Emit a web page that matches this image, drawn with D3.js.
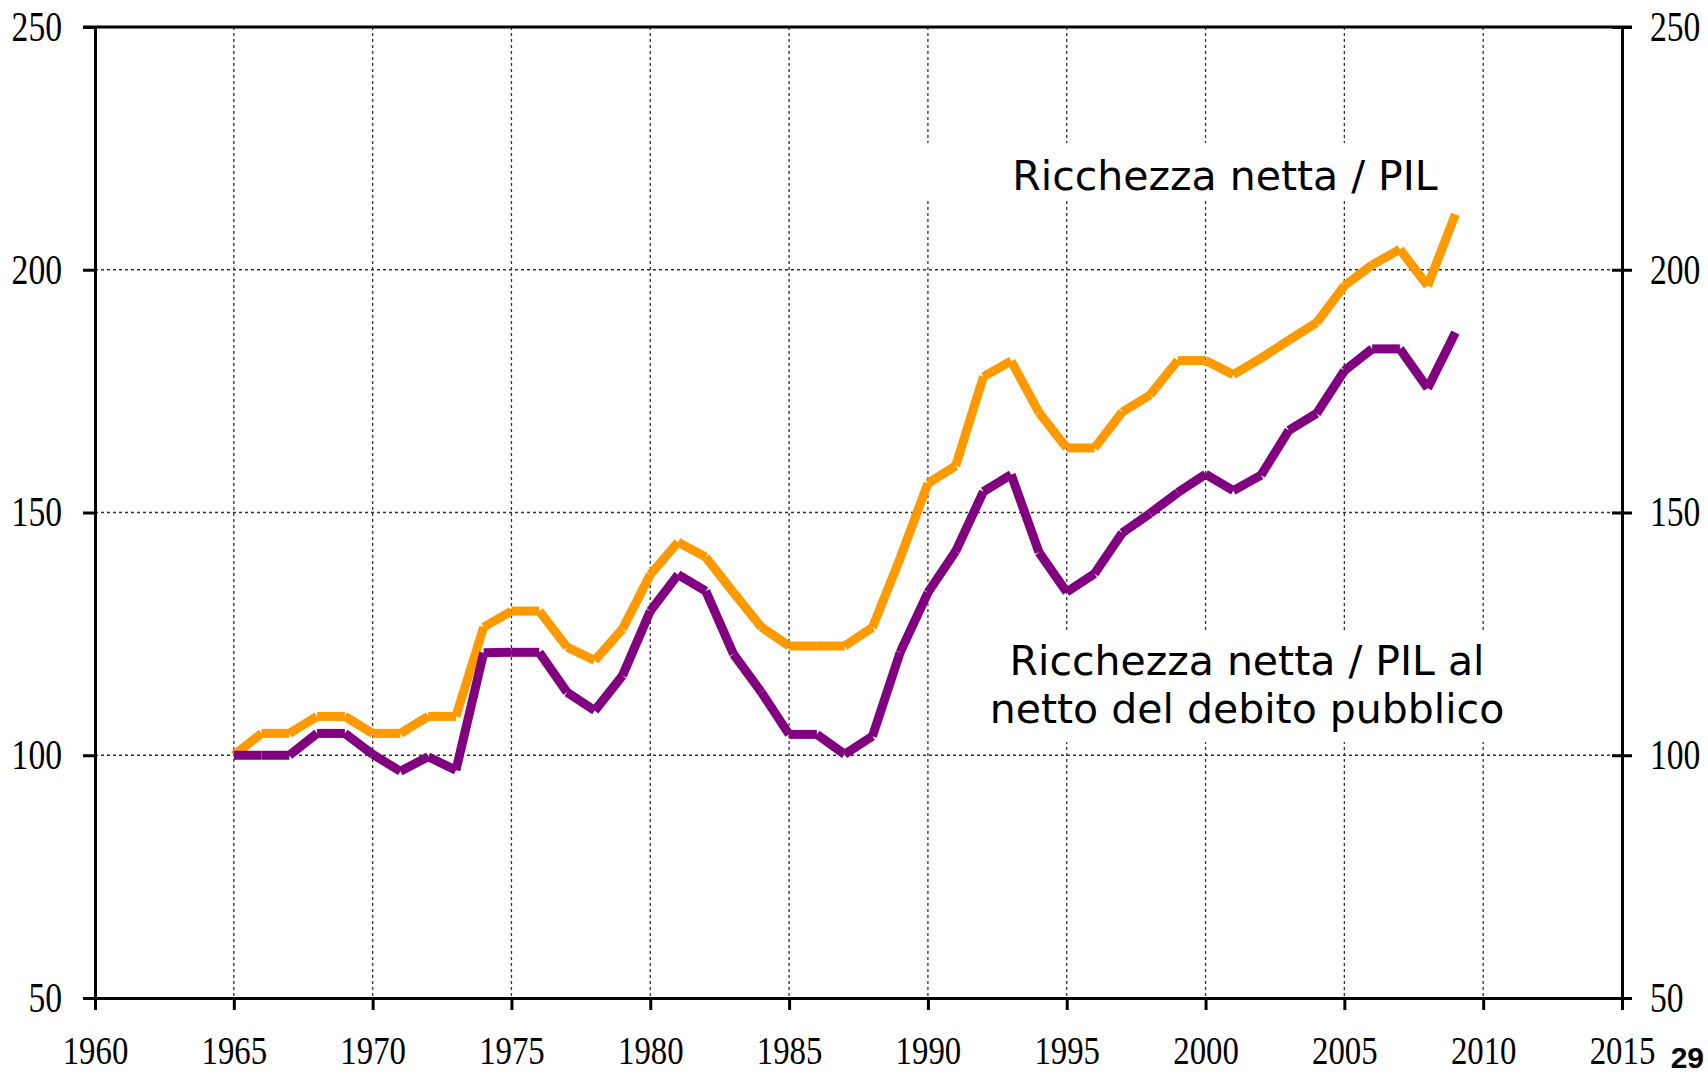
<!DOCTYPE html>
<html lang="it">
<head>
<meta charset="utf-8">
<title>Ricchezza netta / PIL</title>
<script src="https://cdn.jsdelivr.net/npm/d3@7/dist/d3.min.js"></script>
<style>
  body { margin: 0; background: #fff; }
  .tick text { font-family: "Liberation Serif", "Times New Roman", serif; fill: #000; }
  .label { font-family: "DejaVu Sans", Verdana, sans-serif; fill: #000; }
</style>
</head>
<body>
<script>
  // anni della serie
  var years = [1965, 1966, 1967, 1968, 1969, 1970, 1971, 1972, 1973, 1974,
               1975, 1976, 1977, 1978, 1979, 1980, 1981, 1982, 1983, 1984,
               1985, 1986, 1987, 1988, 1989, 1990, 1991, 1992, 1993, 1994,
               1995, 1996, 1997, 1998, 1999, 2000, 2001, 2002, 2003, 2004,
               2005, 2006, 2007, 2008, 2009];
  // Ricchezza netta / PIL (1965 = 100)
  var ricchezza = [100, 104.5, 104.5, 108, 108, 104.5, 104.5, 108, 108, 126.4,
                   129.7, 129.7, 122.3, 119.5, 126, 137.2, 143.9, 140.8, 133.5, 126.4,
                   122.5, 122.5, 122.5, 126.3, 140.6, 156, 159.6, 178, 181.2, 170.6,
                   163.3, 163.3, 170.7, 174.2, 181.3, 181.3, 178.4, 181.8, 185.5, 189.1,
                   196.7, 201, 204.2, 196.7, 211.4];
  // Ricchezza netta / PIL al netto del debito pubblico
  var ricchezzaNetta = [100, 100, 100, 104.5, 104.5, 100.2, 96.7, 99.7, 96.9, 121.1,
                        121.2, 121.2, 113, 109.2, 116.4, 129.7, 137.2, 133.8, 120.8, 113,
                        104.3, 104.3, 100.2, 103.9, 121.2, 133.5, 142, 154.3, 157.8, 141.8,
                        133.6, 137.4, 145.8, 149.8, 154.1, 157.9, 154.5, 157.7, 166.9, 170.4,
                        179.2, 183.7, 183.7, 175.6, 187.1];
  var xTicks = [1960, 1965, 1970, 1975, 1980, 1985, 1990, 1995, 2000, 2005, 2010, 2015];
  var yTicks = [50, 100, 150, 200, 250];

  var w = 1708;
  var h = 1074;
  var margin = { top: 27, left: 95, right: 86, bottom: 76 };
  var squeeze = 0.8; // i numeri degli assi sono stretti in orizzontale

  var x = d3.scaleLinear()
    .domain([1960, 2015])
    .range([margin.left, w - margin.right]);
  var y = d3.scaleLinear()
    .domain([50, 250])
    .range([h - margin.bottom, margin.top]);

  var svg = d3.select("body").append("svg")
    .attr("width", w)
    .attr("height", h);

  // griglia tratteggiata
  var grid = svg.append("g").attr("stroke", "#333").attr("stroke-width", 1.3)
    .attr("stroke-dasharray", "3,3");
  grid.selectAll(".vgrid")
    .data(xTicks.slice(1, -1))
    .enter().append("line")
    .attr("x1", function (d) { return x(d); })
    .attr("x2", function (d) { return x(d); })
    .attr("y1", y(250))
    .attr("y2", y(50));
  grid.selectAll(".hgrid")
    .data(yTicks.slice(1, -1))
    .enter().append("line")
    .attr("x1", x(1960))
    .attr("x2", x(2015))
    .attr("y1", function (d) { return y(d); })
    .attr("y2", function (d) { return y(d); });

  // riquadri bianchi dietro le etichette
  svg.append("rect").attr("x", 905).attr("y", 143).attr("width", 555).attr("height", 57).attr("fill", "#fff");
  svg.append("rect").attr("x", 975).attr("y", 630).attr("width", 540).attr("height", 112).attr("fill", "#fff");

  var line = d3.line()
    .x(function (d) { return x(d[0]); })
    .y(function (d) { return y(d[1]); });

  // ogni tratto disegnato separatamente, come nell'originale
  function plot(values, color) {
    var segs = [];
    for (var i = 0; i < years.length - 1; i++) {
      segs.push([[years[i], values[i]], [years[i + 1], values[i + 1]]]);
    }
    svg.append("g").selectAll("path")
      .data(segs)
      .enter().append("path")
      .attr("d", line)
      .attr("fill", "none")
      .attr("stroke", color)
      .attr("stroke-width", 9)
      .attr("stroke-linecap", "butt");
  }
  plot(ricchezza, "#ff9900");
  plot(ricchezzaNetta, "#800080");

  // assi
  function styleAxis(g, size) {
    g.select(".domain").attr("stroke", "#000").attr("stroke-width", 3);
    g.selectAll(".tick line").attr("stroke", "#000").attr("stroke-width", 3);
    g.selectAll(".tick text")
      .attr("font-size", size)
      .attr("x", function () { return (+d3.select(this).attr("x") || 0) / squeeze; })
      .attr("transform", "scale(" + squeeze + ",1)");
  }

  svg.append("g")
    .attr("transform", "translate(" + x(1960) + ",0)")
    .call(d3.axisLeft(y).tickValues(yTicks).tickSize(12).tickSizeOuter(0).tickPadding(21))
    .call(styleAxis, 42);

  var right = svg.append("g")
    .attr("transform", "translate(" + x(2015) + ",0)")
    .call(d3.axisRight(y).tickValues(yTicks).tickSize(10).tickSizeOuter(0).tickPadding(18))
    .call(styleAxis, 42);
  right.selectAll(".tick line").attr("x1", -10);

  svg.append("g")
    .attr("transform", "translate(0," + y(50) + ")")
    .call(d3.axisBottom(x).tickValues(xTicks).tickSize(12).tickSizeOuter(0).tickPadding(25).tickFormat(d3.format("d")))
    .call(styleAxis, 41);

  svg.append("line")
    .attr("x1", x(1960) - 12).attr("x2", x(2015) + 10)
    .attr("y1", y(250)).attr("y2", y(250))
    .attr("stroke", "#000").attr("stroke-width", 3);

  // etichette delle serie
  svg.append("text").attr("class", "label")
    .attr("x", 1225).attr("y", 190)
    .attr("text-anchor", "middle").attr("font-size", 41)
    .text("Ricchezza netta / PIL");
  var lab = svg.append("text").attr("class", "label")
    .attr("text-anchor", "middle").attr("font-size", 41);
  lab.append("tspan").attr("x", 1247).attr("y", 675).text("Ricchezza netta / PIL al");
  lab.append("tspan").attr("x", 1247).attr("y", 723).text("netto del debito pubblico");

  // numero di pagina
  svg.append("text")
    .attr("x", 1704).attr("y", 1068)
    .attr("text-anchor", "end")
    .attr("font-family", "Liberation Sans, Arial, sans-serif")
    .attr("font-weight", "bold").attr("font-size", 30)
    .text("29");
</script>
</body>
</html>
